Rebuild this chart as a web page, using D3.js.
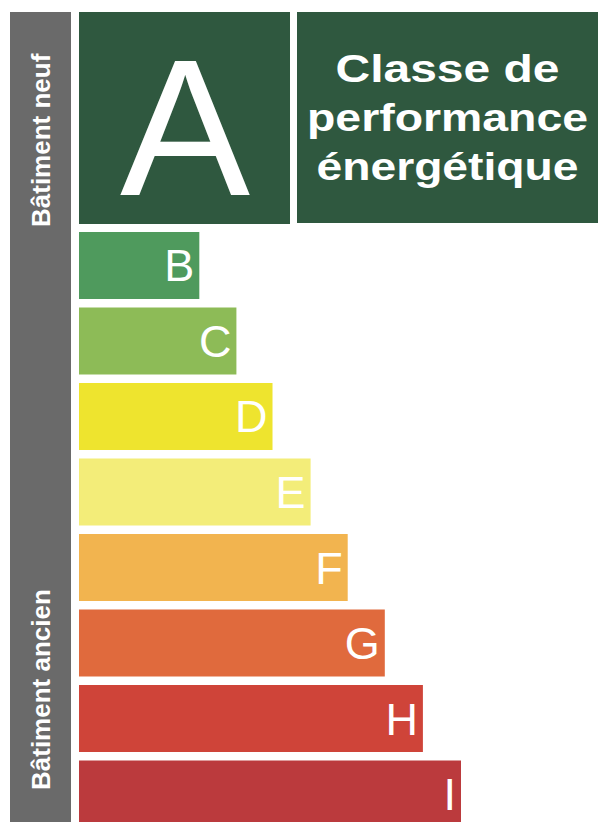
<!DOCTYPE html>
<html>
<head>
<meta charset="utf-8">
<script src="https://cdn.jsdelivr.net/npm/d3@7"></script>
<style>
  html, body { margin: 0; padding: 0; background: #ffffff; }
  svg { display: block; }
</style>
</head>
<body>
<svg id="chart" width="600" height="822"></svg>
<script>
// ---- data ----
const classes = ["B", "C", "D", "E", "F", "G", "H", "I"];
const lengths = [12.0, 15.7, 19.3, 23.1, 26.8, 30.5, 34.3, 38.1];
const colors = ["#4f9a5d", "#8dbb57", "#eee42e", "#f3ed79", "#f2b44f", "#e06a3d", "#cf4439", "#bb3a3d"];
const topClass = "A";
const titleLines = ["Classe de", "performance", "énergétique"];
const titleWidths = [224, 281, 262];
const sideLabels = ["Bâtiment neuf", "Bâtiment ancien"];

const darkGreen = "#2f583f";
const gray = "#6a6a6a";
const font = "'Liberation Sans', Arial, Helvetica, sans-serif";

const svg = d3.select("#chart");

// scales
const x = d3.scaleLinear().domain([0, d3.max(lengths)]).range([79, 461]);
const y = d3.scaleBand().domain(classes).range([232, 827.5]).paddingInner(0.1126).paddingOuter(0);

// side gray bar
svg.append("rect").attr("x", 10).attr("y", 12).attr("width", 61).attr("height", 822).attr("fill", gray);

svg.append("text")
  .attr("transform", "translate(50,227) rotate(-90)")
  .attr("font-family", font).attr("font-weight", "bold").attr("font-size", 26)
  .attr("fill", "#fff").text(sideLabels[0]);
svg.append("text")
  .attr("transform", "translate(50,790) rotate(-90)")
  .attr("font-family", font).attr("font-weight", "bold").attr("font-size", 26)
  .attr("fill", "#fff").text(sideLabels[1]);

// A box
svg.append("rect").attr("x", 79).attr("y", 12).attr("width", 211).attr("height", 212).attr("fill", darkGreen);
svg.append("text").attr("x", 185).attr("y", 195).attr("text-anchor", "middle")
  .attr("font-family", font).attr("font-size", 195).attr("fill", "#fff").text(topClass);

// Title box
svg.append("rect").attr("x", 297).attr("y", 12).attr("width", 301).attr("height", 211).attr("fill", darkGreen);
const baselines = [82, 131, 180];
titleLines.forEach((t, i) => {
  svg.append("text").attr("x", 447.5).attr("y", baselines[i]).attr("text-anchor", "middle")
    .attr("font-family", font).attr("font-weight", "bold").attr("font-size", 38)
    .attr("textLength", titleWidths[i]).attr("lengthAdjust", "spacingAndGlyphs")
    .attr("fill", "#fff").text(t);
});

// class bars
const g = svg.append("g");
g.selectAll("rect.bar").data(classes).join("rect")
  .attr("class", "bar")
  .attr("x", x(0))
  .attr("y", d => y(d))
  .attr("width", (d, i) => x(lengths[i]) - x(0))
  .attr("height", y.bandwidth())
  .attr("fill", (d, i) => colors[i]);

g.selectAll("text.lbl").data(classes).join("text")
  .attr("class", "lbl")
  .attr("x", (d, i) => x(lengths[i]) - 5)
  .attr("y", d => y(d) + y.bandwidth() / 2 + 16)
  .attr("text-anchor", "end")
  .attr("font-family", font).attr("font-size", 45)
  .attr("fill", "#fff")
  .text(d => d);
</script>
</body>
</html>
